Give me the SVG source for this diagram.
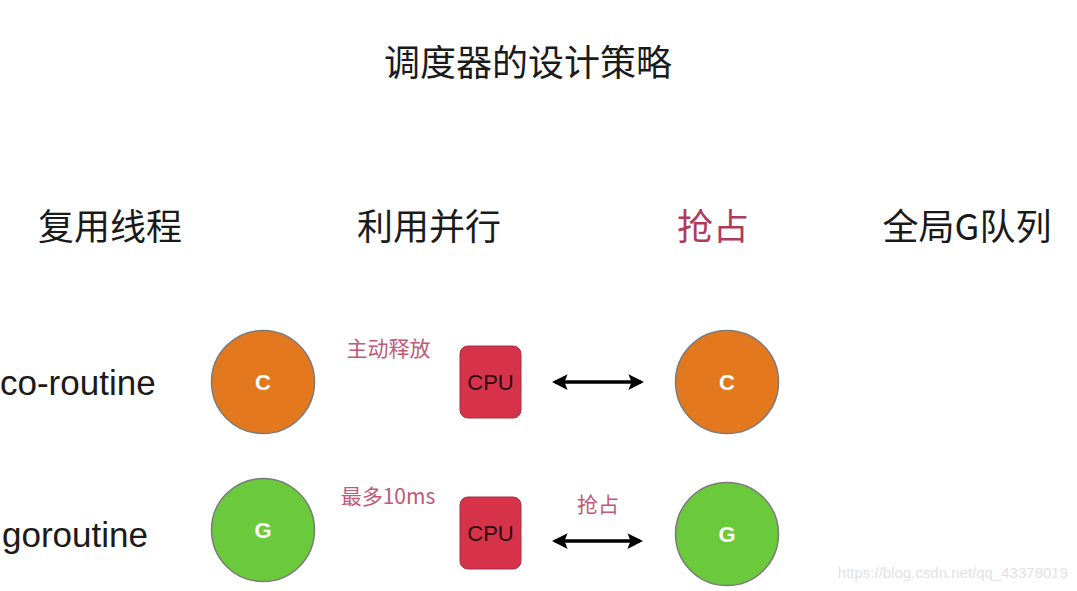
<svg xmlns="http://www.w3.org/2000/svg" width="1077" height="591" viewBox="0 0 1077 591">
<defs>
<style>
.t{font-family:"Noto Sans CJK SC","Noto Sans",sans-serif;fill:#1a1a1a}
.h{font-size:36px}
.lbl{font-family:"Noto Sans CJK SC","Liberation Sans",sans-serif;font-size:21px;fill:#c0587a}
.en{font-family:"Liberation Sans",Arial,sans-serif;font-size:35px;fill:#1a1a1a}
.circ{stroke:#7a7a7a;stroke-width:1.5}
.c-or{fill:#e4781e}
.c-gr{fill:#6bc93c}
.ct{font-family:"Liberation Sans",Arial,sans-serif;font-size:22px;font-weight:bold;fill:#fff;text-anchor:middle}
.cpu{fill:#d6334b;stroke:#a03040;stroke-width:1}
.cput{font-family:"Liberation Sans",Arial,sans-serif;font-size:22px;fill:#2a0a10;text-anchor:middle}
.arr{stroke:#000;stroke-width:3.5;fill:none;marker-start:url(#ah);marker-end:url(#ah)}
</style>
<marker id="ah" viewBox="0 0 10 10" refX="8" refY="5" markerWidth="4.5" markerHeight="5" orient="auto-start-reverse" markerUnits="strokeWidth">
<path d="M0,0 L10,5 L0,10 L2,5 Z" fill="#000"/>
</marker>
</defs>
<rect width="1077" height="591" fill="#fff"/>
<g id="title"><text class="t" x="528" y="76" font-size="36" text-anchor="middle">调度器的设计策略</text></g>
<g id="headers">
<text class="t h" x="110" y="240" text-anchor="middle">复用线程</text>
<text class="t h" x="429" y="240" text-anchor="middle">利用并行</text>
<text class="t h" x="713" y="240" text-anchor="middle" style="fill:#b03a5a">抢占</text>
<text class="t h" x="967" y="240" text-anchor="middle">全局G队列</text>
</g>
<g id="row-labels">
<text class="en" x="0" y="395">co-routine</text>
<text class="en" x="2" y="547">goroutine</text>
</g>
<g id="node-c1"><circle class="circ c-or" cx="263" cy="382" r="51.5"/><text class="ct" x="263" y="390">C</text></g>
<g id="node-cpu1"><rect class="cpu" x="460" y="346" width="61" height="72" rx="8"/><text class="cput" x="490.5" y="390">CPU</text></g>
<g id="node-c2"><circle class="circ c-or" cx="727" cy="382" r="51.5"/><text class="ct" x="727" y="390">C</text></g>
<g id="node-g1"><circle class="circ c-gr" cx="263" cy="530" r="51.5"/><text class="ct" x="263" y="538">G</text></g>
<g id="node-cpu2"><rect class="cpu" x="460" y="497" width="61" height="72" rx="8"/><text class="cput" x="490.5" y="541">CPU</text></g>
<g id="node-g2"><circle class="circ c-gr" cx="727" cy="534" r="51.5"/><text class="ct" x="727" y="542">G</text></g>
<g id="labels">
<text class="lbl" x="388.5" y="356" text-anchor="middle">主动释放</text>
<text class="lbl" x="388" y="504" text-anchor="middle">最多10ms</text>
<text class="lbl" x="598" y="512" text-anchor="middle">抢占</text>
</g>
<g id="connectors">
<line class="arr" x1="555" y1="382" x2="641" y2="382"/>
<line class="arr" x1="555" y1="541" x2="640" y2="541"/>
</g>
<g id="watermark"><text x="1068" y="578" text-anchor="end" font-family="Liberation Sans,Arial,sans-serif" font-size="15" fill="#e2e2e2">https://blog.csdn.net/qq_43378019</text></g>
</svg>
